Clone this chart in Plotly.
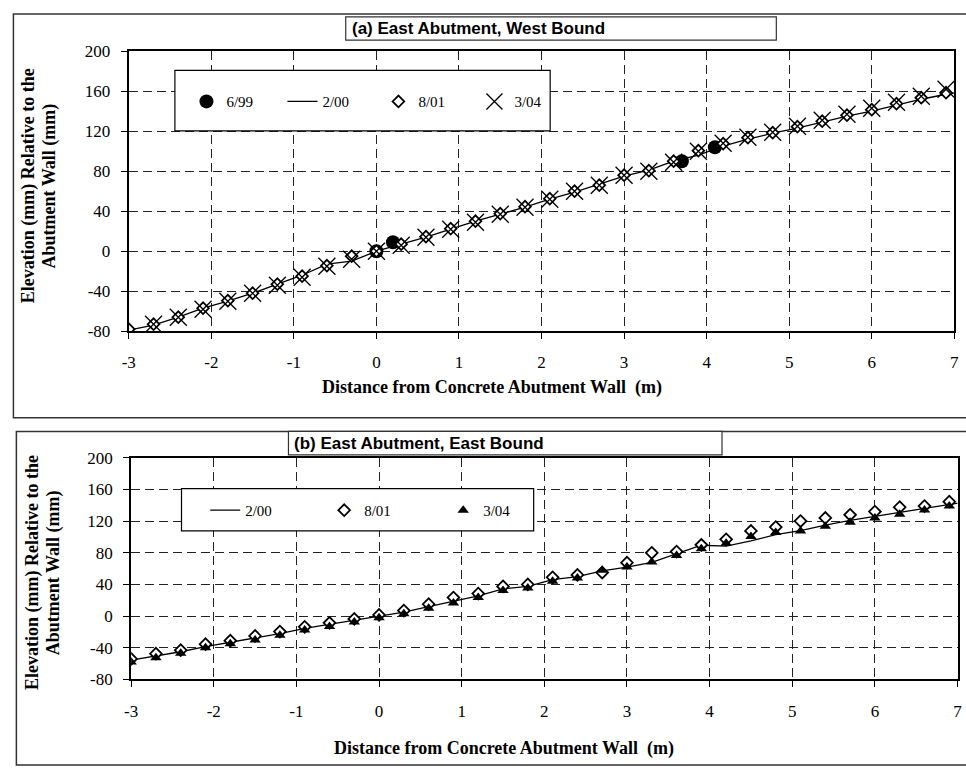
import plotly.graph_objects as go

W, H = 966, 776

# ---------------- (a) East Abutment, West Bound ----------------
x_a = [-3.0, -2.7, -2.4, -2.1, -1.8, -1.5, -1.2, -0.9, -0.6, -0.3, 0.0, 0.3, 0.6, 0.9,
       1.2, 1.5, 1.8, 2.1, 2.4, 2.7, 3.0, 3.3, 3.6, 3.9, 4.2, 4.5, 4.8, 5.1, 5.4, 5.7,
       6.0, 6.3, 6.6, 6.9]
x_a_699 = [0.0, 0.2, 3.7, 4.1]
elev_a_699 = [0, 9, 90, 104]
x_a_200 = x_a + [7.2]
elev_a_200 = [-79, -74, -66, -57, -50, -42, -33, -24, -13, -10, 0, 7, 14, 22, 30, 37, 44,
              52, 59, 67, 75, 81, 90, 96, 105, 112, 118, 123, 129, 135, 140, 146, 152,
              157, 161]
elev_a_801 = [-78, -73, -66, -57, -49.5, -42, -33, -25, -14.5, -5, 0, 7, 14.5, 22.5, 30,
              37.5, 44.5, 52.5, 60, 66, 76, 80.5, 90, 100.5, 107.5, 113.5, 118.5, 124.5,
              130, 136, 141.5, 147.5, 153.5, 158.5]
x_a_304 = x_a[1:]
elev_a_304 = [-73, -66, -58, -50, -42, -34, -26, -15, -8, 0, 6, 14, 22, 29, 37, 44, 52,
              60, 66, 76, 80, 89, 100, 108, 114, 119, 125, 131, 137, 143, 149, 155, 162]

# ---------------- (b) East Abutment, East Bound ----------------
x_b = list(x_a)
x_b_200 = x_b + [7.2]
elev_b_200 = [-55.5, -50.5, -45, -38.5, -33, -28, -22, -15.5, -10.5, -5.5, 0, 5, 12, 19,
              25.5, 34.5, 37.5, 46, 50, 57, 62, 68, 79, 89.5, 88.5, 95, 103, 108, 115,
              121, 126, 131, 136, 141.5, 146]
elev_b_801 = [-54, -47.5, -43, -35.5, -31, -25, -19.5, -13.5, -8.5, -3.5, 1.5, 7, 15,
              23.5, 28.5, 37.5, 40, 49, 52, 55, 67.5, 80, 81.5, 90, 97, 107.5, 112.5,
              120, 124, 128, 132, 137.5, 139, 144.5]
elev_b_304 = [-58, -52.5, -47, -40, -35, -30, -24, -17.5, -13, -7.5, -2, 3, 10, 16.5,
              23.5, 32.5, 35.5, 44, 48, 58, 62, 68.5, 76.5, 85, 92, 100.5, 105.5, 107.5,
              113.5, 118.5, 124, 128.5, 134, 139]

x_ticks = [-3, -2, -1, 0, 1, 2, 3, 4, 5, 6, 7]
x_tick_text = ["-3", "-2", "-1", "0", "1", "2", "3", "4", "5", "6", "7"]
y_ticks = [-80, -40, 0, 40, 80, 120, 160, 200]
y_tick_text = ["-80", "-40", "0", "40", "80", "120", "160", "200"]

SERIF = "Liberation Serif"
SANS = "Liberation Sans"


def px(x):
    return x / W


def py(y):
    return 1 - y / H


fig = go.Figure()

# Panel (a)
fig.add_trace(go.Scatter(x=x_a_699, y=elev_a_699, mode="markers", name="6/99",
                         marker=dict(symbol="circle", size=14, color="black"),
                         xaxis="x", yaxis="y", legend="legend"))
fig.add_trace(go.Scatter(x=x_a_200, y=elev_a_200, mode="lines", name="2/00",
                         line=dict(color="black", width=1.3),
                         xaxis="x", yaxis="y", legend="legend"))
fig.add_trace(go.Scatter(x=x_a, y=elev_a_801, mode="markers", name="8/01",
                         marker=dict(symbol="diamond", size=9, color="white",
                                     line=dict(color="black", width=1.8)),
                         xaxis="x", yaxis="y", legend="legend"))
fig.add_trace(go.Scatter(x=x_a_304, y=elev_a_304, mode="markers", name="3/04",
                         marker=dict(symbol="x-thin", size=17, color="black",
                                     line=dict(color="black", width=1.3)),
                         xaxis="x", yaxis="y", legend="legend"))

# Panel (b)
fig.add_trace(go.Scatter(x=x_b_200, y=elev_b_200, mode="lines", name="2/00",
                         line=dict(color="black", width=1.3),
                         xaxis="x2", yaxis="y2", legend="legend2"))
fig.add_trace(go.Scatter(x=x_b, y=elev_b_801, mode="markers", name="8/01",
                         marker=dict(symbol="diamond", size=9, color="white",
                                     line=dict(color="black", width=1.8)),
                         xaxis="x2", yaxis="y2", legend="legend2"))
fig.add_trace(go.Scatter(x=x_b, y=elev_b_304, mode="markers", name="3/04",
                         marker=dict(symbol="triangle-up", size=10, color="black"),
                         xaxis="x2", yaxis="y2", legend="legend2"))

axis_common = dict(
    showgrid=True, gridcolor="#222222", gridwidth=1, griddash="9px,5px",
    showline=True, linecolor="black", linewidth=2, mirror=True,
    ticks="outside", ticklen=6, tickcolor="black", tickwidth=1,
    tickfont=dict(family=SERIF, size=17, color="black"),
    zeroline=False,
)

fig.update_layout(
    width=W, height=H,
    margin=dict(l=0, r=0, t=0, b=0),
    paper_bgcolor="white", plot_bgcolor="white",
    showlegend=True,
    xaxis=dict(domain=[px(123.3), px(959.2)], range=[-3, 7], tickvals=x_ticks,
               ticktext=x_tick_text, anchor="y", ticklabelstandoff=8, **axis_common),
    yaxis=dict(domain=[py(330.3), py(43.3)], range=[-80, 200], tickvals=y_ticks,
               ticktext=y_tick_text, anchor="x", ticklabelstandoff=7, **axis_common),
    xaxis2=dict(domain=[px(125.7), px(962.5)], range=[-3, 7], tickvals=x_ticks,
                ticktext=x_tick_text, anchor="y2", ticklabelstandoff=9, **axis_common),
    yaxis2=dict(domain=[py(687.3), py(460)], range=[-80, 200], tickvals=y_ticks,
                ticktext=y_tick_text, anchor="x2", ticklabelstandoff=7, **axis_common),
    legend=dict(orientation="h", x=px(181.7), xanchor="left", y=py(95), yanchor="middle",
                bgcolor="rgba(0,0,0,0)", borderwidth=0, entrywidth=51,
                font=dict(family=SERIF, size=15, color="black")),
    legend2=dict(orientation="h", x=px(200.7), xanchor="left", y=py(514), yanchor="middle",
                 bgcolor="rgba(0,0,0,0)", borderwidth=0, entrywidth=74,
                 font=dict(family=SERIF, size=15, color="black")),
)

shapes = [
    # outer frames
    dict(type="rect", xref="paper", yref="paper", x0=px(6.5), x1=px(980), y0=py(419), y1=py(5),
         line=dict(color="#333333", width=1.5), fillcolor="rgba(0,0,0,0)", layer="below"),
    dict(type="rect", xref="paper", yref="paper", x0=px(9.5), x1=px(980), y0=py(775), y1=py(433),
         line=dict(color="#333333", width=1.5), fillcolor="rgba(0,0,0,0)", layer="below"),
    # title boxes
    dict(type="rect", xref="paper", yref="paper", x0=px(343), x1=px(779), y0=py(32), y1=py(8),
         line=dict(color="#333333", width=1.2), fillcolor="white", layer="above"),
    dict(type="rect", xref="paper", yref="paper", x0=px(285), x1=px(724), y0=py(457), y1=py(433),
         line=dict(color="#333333", width=1.2), fillcolor="white", layer="above"),
    # legend boxes
    dict(type="rect", xref="paper", yref="paper", x0=px(170), x1=px(550), y0=py(125), y1=py(63),
         line=dict(color="black", width=1.2), fillcolor="white", layer="above"),
    dict(type="rect", xref="paper", yref="paper", x0=px(176.7), x1=px(533.3), y0=py(535), y1=py(491.7),
         line=dict(color="black", width=1.2), fillcolor="white", layer="above"),
]
fig.update_layout(shapes=shapes)

title_font = dict(family=SANS, size=17, color="black", weight="bold")
axis_title_font = dict(family=SERIF, size=18, color="black", weight="bold")

annotations = [
    dict(text="(a) East Abutment, West Bound", x=px(347), y=py(20), xanchor="left",
         yanchor="middle", font=title_font),
    dict(text="(b) East Abutment, East Bound", x=px(289), y=py(445), xanchor="left",
         yanchor="middle", font=title_font),
    dict(text="Distance from Concrete Abutment Wall  (m)", x=px(491), y=py(388),
         xanchor="center", yanchor="middle", font=axis_title_font),
    dict(text="Distance from Concrete Abutment Wall  (m)", x=px(503), y=py(758),
         xanchor="center", yanchor="middle", font=axis_title_font),
    dict(text="Elevation (mm) Relative to the", x=px(22), y=py(181), textangle=-90,
         xanchor="center", yanchor="middle", font=axis_title_font),
    dict(text="Abutment Wall (mm)", x=px(43.5), y=py(181), textangle=-90,
         xanchor="center", yanchor="middle", font=axis_title_font),
    dict(text="Elevation (mm) Relative to the", x=px(26.5), y=py(578), textangle=-90,
         xanchor="center", yanchor="middle", font=axis_title_font),
    dict(text="Abutment Wall (mm)", x=px(47), y=py(578), textangle=-90,
         xanchor="center", yanchor="middle", font=axis_title_font),
]
for a in annotations:
    a.update(xref="paper", yref="paper", showarrow=False)
fig.update_layout(annotations=annotations)

fig.write_html("out.html", config={"displayModeBar": False},
               post_script="document.body.style.margin='0px';document.body.style.overflow='hidden';")
